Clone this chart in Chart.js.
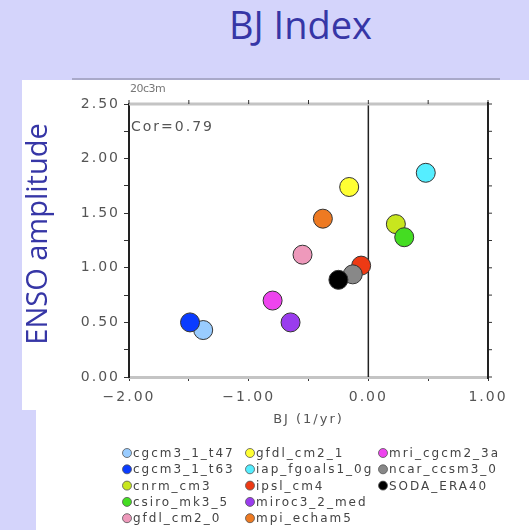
<!DOCTYPE html>
<html>
<head>
<meta charset="utf-8">
<script src="https://cdn.jsdelivr.net/npm/chart.js@4/dist/chart.umd.min.js"></script>
<style>
  body { margin: 0; width: 529px; height: 530px; overflow: hidden; background: #d4d4fb; position: relative; }
  #title { position: absolute; left: 0; top: 5px; width: 601px; text-align: center; font: 38px/38px "Open Sans", sans-serif; color: #3636a6; }
  #shade { position: absolute; left: 72px; top: 78px; width: 428px; height: 2px; background: #a9a9c9; }
  #side { position: absolute; left: 22px; top: 80px; width: 14px; height: 330px; background: #fff; }
  #wrap { position: absolute; left: 36px; top: 80px; width: 493px; height: 450px; background: #fff; }
  #ylab { position: absolute; left: -114px; top: 214px; width: 300px; height: 40px; line-height: 40px; text-align: center;
          font-family: "Open Sans", sans-serif; font-size: 29px; color: #3636a6; transform: rotate(-90deg); z-index: 2; }
</style>
</head>
<body>
<div id="title">BJ Index</div>
<div id="shade"></div>
<div id="side"></div>
<div id="wrap"><canvas id="chart" width="493" height="450"></canvas></div>
<div id="ylab">ENSO amplitude</div>
<script>
// models, in legend order
const models = [
  "cgcm3_1_t47", "cgcm3_1_t63", "cnrm_cm3", "csiro_mk3_5", "gfdl_cm2_0",
  "gfdl_cm2_1", "iap_fgoals1_0g", "ipsl_cm4", "miroc3_2_med", "mpi_echam5",
  "mri_cgcm2_3a", "ncar_ccsm3_0", "SODA_ERA40"
];
const bjValues = [-1.38, -1.49, 0.23, 0.30, -0.55, -0.16, 0.48, -0.06, -0.65, -0.38, -0.80, -0.13, -0.25];
const ampValues = [0.43, 0.50, 1.40, 1.28, 1.12, 1.74, 1.87, 1.02, 0.50, 1.45, 0.70, 0.94, 0.89];
const pointColors = [
  "#99ccff", "#0a3cff", "#c8e61e", "#44dd22", "#ee99bb",
  "#ffff33", "#55eeff", "#ee3a14", "#9a3cee", "#ee7a22",
  "#ee44ee", "#888888", "#000000"
];
const subtitle = "20c3m";
const corrText = "Cor=0.79";
const xTitle = "BJ (1/yr)";

var tickFont = { family: "DejaVu Sans", size: 14 };
var tickColor = "#555";

function fmt(v) {
  return (v < 0 ? "\u2212" : "") + Math.abs(v).toFixed(2);
}

var datasets = [];
for (let i = 0; i < models.length; i++) {
  datasets.push({
    label: models[i],
    data: [{ x: bjValues[i], y: ampValues[i] }],
    backgroundColor: pointColors[i],
    borderColor: "#333",
    borderWidth: 1,
    pointRadius: 9.5,
    order: models.length - i
  });
}

// NCL style: wide text, framed box, custom legend
const nclPlugin = {
  id: "ncl",
  beforeLayout(chart) { chart.ctx.letterSpacing = "2px"; },
  beforeDraw(chart) { chart.ctx.letterSpacing = "2px"; },
  beforeDatasetsDraw(chart) {
    const ctx = chart.ctx;
    const a = chart.chartArea;
    const xs = chart.scales.x, ys = chart.scales.y;
    ctx.save();
    // zero line
    ctx.strokeStyle = "#222";
    ctx.lineWidth = 1.5;
    ctx.beginPath();
    ctx.moveTo(xs.getPixelForValue(0), a.top);
    ctx.lineTo(xs.getPixelForValue(0), a.bottom);
    ctx.stroke();
    // top border and ticks
    ctx.strokeStyle = "#c4c4c4";
    ctx.lineWidth = 3;
    ctx.beginPath();
    ctx.moveTo(a.left, a.top);
    ctx.lineTo(a.right, a.top);
    ctx.stroke();
    ctx.strokeStyle = "#333";
    ctx.lineWidth = 1;
    xs.ticks.forEach((t) => {
      const px = xs.getPixelForValue(t.value);
      ctx.beginPath();
      ctx.moveTo(px, a.top - 4);
      ctx.lineTo(px, a.top);
      ctx.stroke();
    });
    ys.ticks.forEach((t) => {
      const py = ys.getPixelForValue(t.value);
      ctx.beginPath();
      ctx.moveTo(a.right, py);
      ctx.lineTo(a.right + 4, py);
      ctx.stroke();
    });
    // right border
    ctx.strokeStyle = "#222";
    ctx.lineWidth = 2;
    ctx.beginPath();
    ctx.moveTo(a.right, a.top - 2);
    ctx.lineTo(a.right, a.bottom + 2);
    ctx.stroke();
    ctx.restore();
  },
  afterDraw(chart) {
    const ctx = chart.ctx;
    const a = chart.chartArea;
    ctx.save();
    ctx.textBaseline = "middle";
    ctx.textAlign = "left";
    ctx.letterSpacing = "-0.5px";
    ctx.fillStyle = "#777";
    ctx.font = "11px 'DejaVu Sans'";
    ctx.fillText(subtitle, a.left + 1, a.top - 15);
    ctx.letterSpacing = "2px";
    ctx.fillStyle = "#555";
    ctx.font = "14px 'DejaVu Sans'";
    ctx.fillText(corrText, a.left + 2, a.top + 23);

    // legend, 3 columns of 5
    ctx.font = "12px 'DejaVu Sans'";
    const colX = [91, 214, 347];
    chart.data.datasets.forEach((ds, i) => {
      const cx = colX[Math.floor(i / 5)];
      const cy = 373 + (i % 5) * 16.3;
      ctx.beginPath();
      ctx.arc(cx, cy, 4.5, 0, Math.PI * 2);
      ctx.fillStyle = ds.backgroundColor;
      ctx.fill();
      ctx.strokeStyle = "#555";
      ctx.lineWidth = 0.8;
      ctx.stroke();
      ctx.fillStyle = "#444";
      ctx.fillText(ds.label, cx + 6, cy + 1);
    });
    ctx.restore();
  }
};

new Chart(document.getElementById("chart").getContext("2d"), {
  type: "scatter",
  data: { datasets: datasets },
  options: {
    responsive: false,
    animation: false,
    layout: { padding: { left: 0, right: 41, top: 24, bottom: 103 } },
    plugins: { legend: { display: false }, tooltip: { enabled: false } },
    scales: {
      x: {
        type: "linear",
        min: -2,
        max: 1,
        ticks: {
          stepSize: 0.5,
          autoSkip: false,
          maxRotation: 0,
          padding: 8,
          color: tickColor,
          font: tickFont,
          callback: (v) => (Number.isInteger(v) ? fmt(v) : "")
        },
        grid: { drawOnChartArea: false, drawTicks: true, tickLength: 4, color: "#333" },
        border: { color: "#c4c4c4", width: 3 },
        title: { display: true, text: xTitle, color: tickColor, font: { family: "DejaVu Sans", size: 13 }, padding: 0 },
        afterFit: (s) => { s.height = 50; }
      },
      y: {
        type: "linear",
        min: 0,
        max: 2.5,
        ticks: {
          stepSize: 0.25,
          autoSkip: false,
          padding: 4,
          color: tickColor,
          font: tickFont,
          callback: (v) => (Number.isInteger(Math.round(v * 1000) / 500) ? fmt(v) : "")
        },
        grid: { drawOnChartArea: false, drawTicks: true, tickLength: 5, color: "#333" },
        border: { color: "#222", width: 2 },
        afterFit: (s) => { s.width = 93; }
      }
    }
  },
  plugins: [nclPlugin]
});
</script>
</body>
</html>
